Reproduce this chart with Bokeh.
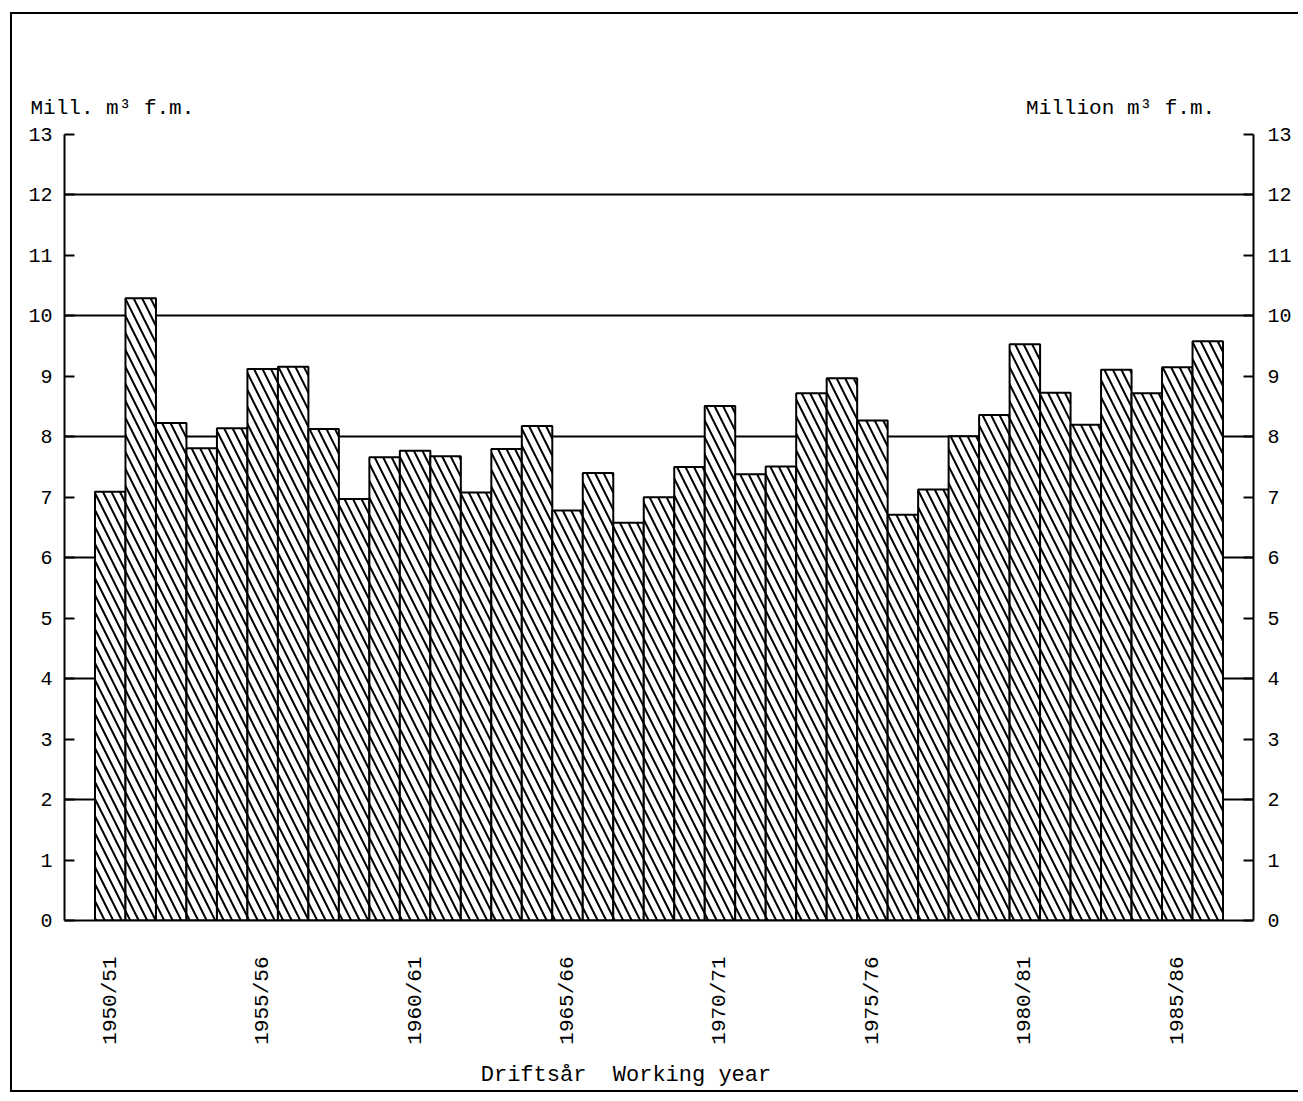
from bokeh.plotting import figure
from bokeh.models import Range1d, LinearAxis, FixedTicker, Title, ColumnDataSource
from bokeh.embed import file_html
from bokeh.resources import INLINE

years = ["1950/51", "1951/52", "1952/53", "1953/54", "1954/55", "1955/56", "1956/57",
         "1957/58", "1958/59", "1959/60", "1960/61", "1961/62", "1962/63", "1963/64",
         "1964/65", "1965/66", "1966/67", "1967/68", "1968/69", "1969/70", "1970/71",
         "1971/72", "1972/73", "1973/74", "1974/75", "1975/76", "1976/77", "1977/78",
         "1978/79", "1979/80", "1980/81", "1981/82", "1982/83", "1983/84", "1984/85",
         "1985/86", "1986/87"]
volume = [7.09, 10.29, 8.23, 7.81, 8.14, 9.12, 9.16, 8.13, 6.97, 7.66, 7.77, 7.68,
          7.08, 7.80, 8.18, 6.78, 7.40, 6.58, 7.00, 7.50, 8.51, 7.38, 7.51, 8.72,
          8.97, 8.27, 6.71, 7.13, 8.01, 8.36, 9.53, 8.73, 8.20, 9.11, 8.72, 9.15, 9.58]
labelled_years = ["1950/51", "1955/56", "1960/61", "1965/66", "1970/71", "1975/76",
                  "1980/81", "1985/86"]
y_ticks = list(range(0, 14))
grid_levels = [2, 4, 6, 8, 10, 12]
unit_left = "Mill. m³ f.m."
unit_right = "Million m³ f.m."
x_title = "Driftsår\u00a0 Working year"

FONT = "Liberation Mono"

xc = [i + 0.5 for i in range(len(years))]
src = ColumnDataSource(dict(x=xc, top=volume, year=years))

W, H = 1288, 1080
p = figure(width=W, height=H, output_backend="svg", toolbar_location=None,
           x_range=Range1d(-1, len(years) + 1), y_range=Range1d(0, 13),
           min_border_left=52, min_border_right=47, min_border_top=120,
           min_border_bottom=174,
           styles={"border-left": "2px solid black", "border-top": "2px solid black",
                   "border-bottom": "2px solid black",
                   "margin-left": "10px", "margin-top": "12px"})
p.outline_line_color = None
p.background_fill_color = "white"
p.border_fill_color = "white"

p.vbar(x="x", top="top", bottom=0, width=1.0, source=src, fill_color="white",
       line_color="black", line_width=2, hatch_pattern="\\", hatch_color="black",
       hatch_scale=17, hatch_weight=2)

# grid
p.xgrid.visible = False
p.ygrid.ticker = FixedTicker(ticks=grid_levels)
p.ygrid.grid_line_color = "black"
p.ygrid.grid_line_width = 2
p.ygrid.grid_line_alpha = 1.0

# y axes
def style_y(ax, standoff):
    ax.ticker = FixedTicker(ticks=y_ticks)
    ax.major_tick_in = 10
    ax.major_tick_out = 0
    ax.minor_tick_line_color = None
    ax.major_tick_line_width = 2
    ax.axis_line_width = 2
    ax.axis_line_color = "black"
    ax.major_tick_line_color = "black"
    ax.major_label_text_font = FONT
    ax.major_label_text_font_size = "20px"
    ax.major_label_text_color = "black"
    ax.major_label_standoff = standoff

style_y(p.yaxis[0], 12)
ry = LinearAxis()
style_y(ry, 14)
p.add_layout(ry, "right")

# x axis
xa = p.xaxis[0]
tick_pos = [years.index(y) + 0.5 for y in labelled_years]
xa.ticker = FixedTicker(ticks=tick_pos)
xa.major_label_overrides = {t: y for t, y in zip(tick_pos, labelled_years)}
xa.major_label_orientation = 3.14159265 / 2
xa.major_tick_line_color = None
xa.minor_tick_line_color = None
xa.axis_line_width = 2
xa.axis_line_color = "black"
xa.major_label_text_font = FONT
xa.major_label_text_font_size = "21px"
xa.major_label_text_color = "black"
xa.major_label_standoff = 30
xa.axis_label = x_title + "\u00a0" * 5
xa.axis_label_text_font = FONT
xa.axis_label_text_font_size = "22px"
xa.axis_label_text_font_style = "normal"
xa.axis_label_text_color = "black"
xa.axis_label_standoff = 15

# unit labels on one row above the frame (monospace, padded)
unit_row = unit_left + "\u00a0" * 66 + unit_right
p.add_layout(Title(text=unit_row, align="left", offset=-34, standoff=30,
                   text_font=FONT, text_font_size="21px", text_font_style="normal",
                   text_color="black"), "above")

open("out.html", "w").write(file_html(p, INLINE))
